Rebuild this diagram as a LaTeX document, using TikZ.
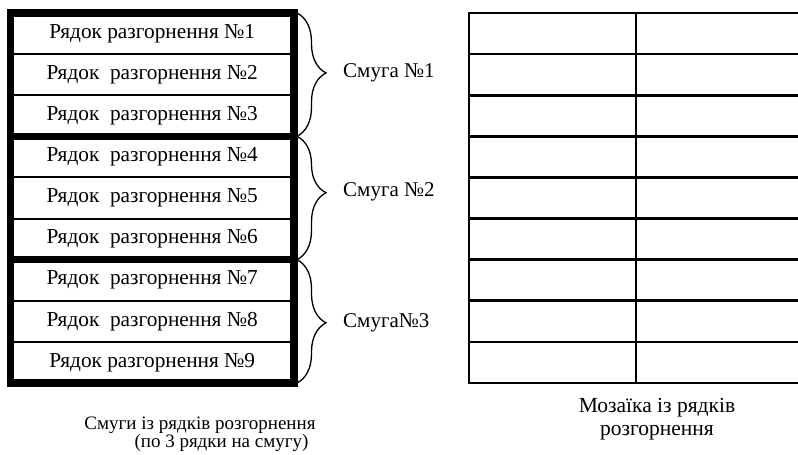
\documentclass[tikz,border=0pt]{standalone}
\usepackage{fontspec}
\setmainfont{Liberation Serif}
\usetikzlibrary{decorations.pathreplacing}
\begin{document}
\begin{tikzpicture}[x=1pt,y=-1pt,
  rowbox/.style={draw,line width=2pt,minimum width=283.5pt,minimum height=41.11pt,inner sep=0pt,outer sep=0pt,font=\fontsize{21.3}{24}\selectfont},
  cell/.style={draw,line width=2.6pt,minimum height=41.11pt,inner sep=0pt,outer sep=0pt},
  grp/.style={line width=7.5pt,line cap=rect},
  brc/.style={decorate,line width=1.3pt,decoration={brace,amplitude=29pt,aspect=#1}},
  lbl/.style={anchor=west,inner sep=0pt,font=\fontsize{21}{24}\selectfont},
  capt/.style={inner sep=0pt,font=\fontsize{19}{22}\selectfont},
  mcapt/.style={inner sep=0pt,font=\fontsize{21.5}{24}\selectfont}]
\clip (0,0) rectangle (798,455);
\fill[white] (0,0) rectangle (798,455);
% left rows
\node[rowbox] (r1) at (152.25,33.56) {Рядок разгорнення №1};
\node[rowbox] (r2) at (152.25,74.67) {Рядок\ \ разгорнення №2};
\node[rowbox] (r3) at (152.25,115.78) {Рядок\ \ разгорнення №3};
\node[rowbox] (r4) at (152.25,156.89) {Рядок\ \ разгорнення №4};
\node[rowbox] (r5) at (152.25,198.00) {Рядок\ \ разгорнення №5};
\node[rowbox] (r6) at (152.25,239.11) {Рядок\ \ разгорнення №6};
\node[rowbox] (r7) at (152.25,280.22) {Рядок\ \ разгорнення №7};
\node[rowbox] (r8) at (152.25,321.33) {Рядок\ \ разгорнення №8};
\node[rowbox] (r9) at (152.25,362.44) {Рядок разгорнення №9};
% group frames
\draw[grp] (r1.north west) rectangle (r3.south east);
\draw[grp] (r4.north west) rectangle (r6.south east);
\draw[grp] (r7.north west) rectangle (r9.south east);
% braces
\draw[brc=0.486] ([xshift=3pt]r1.north east) -- ([xshift=3pt]r3.south east);
\draw[brc=0.457] ([xshift=3pt]r4.north east) -- ([xshift=3pt]r6.south east);
\draw[brc=0.512] ([xshift=3pt]r7.north east) -- ([xshift=3pt]r9.south east);
\node[lbl] (s1) at (343,73) {Смуга №1};
\node[lbl] (s2) at (343,192) {Смуга №2};
\node[lbl] (s3) at (343,323) {Смуга№3};
% mosaic grid
\foreach \i in {1,...,9}{
  \pgfmathsetmacro{\yc}{13+41.11*(\i-0.5)}
  \node[cell,minimum width=167pt] (a\i) at (552.5,\yc) {};
  \node[cell,minimum width=170pt] (b\i) at (721,\yc) {};
}
% captions
\node[capt] (c1) at (200,425) {Смуги із рядків розгорнення};
\node[capt] (c2) at (221.5,443) {(по 3 рядки на смугу)};
\node[mcapt] (m1) at (657,408) {Мозаїка із рядків};
\node[mcapt] (m2) at (657,433) {розгорнення};
\end{tikzpicture}
\end{document}
